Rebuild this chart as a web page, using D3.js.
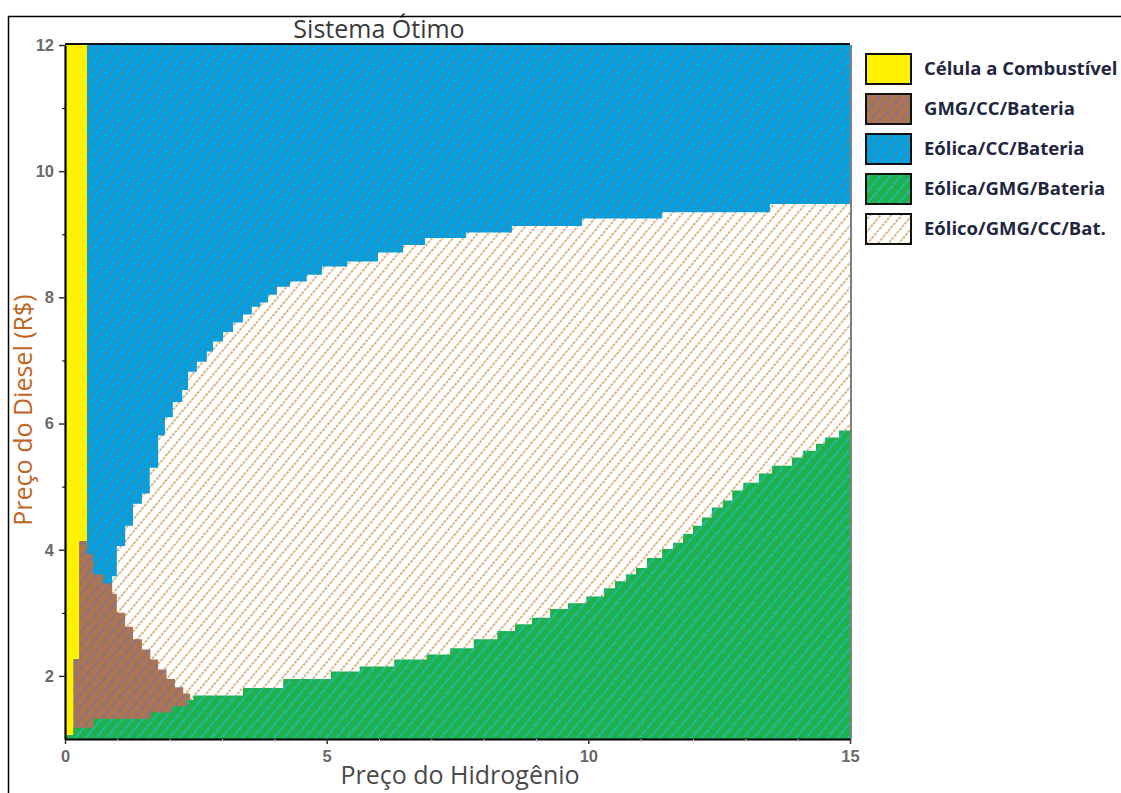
<!DOCTYPE html>
<html>
<head>
<meta charset="utf-8">
<script src="https://cdn.jsdelivr.net/npm/d3@7"></script>
<style>
  body { margin: 0; background: #fff; }
  svg { display: block; }
</style>
</head>
<body>
<div id="chart"></div>
<script>
// Região ótima: fronteiras (preço do hidrogênio x preço do diesel)
var yellowX   = [0, 0.16, 0.27, 0.42];
var yellowLow = [1.06, 2.27, 4.14, 4.14];

var brownX   = [0.16, 0.27, 0.42, 0.54, 0.73, 0.90, 0.99, 1.15, 1.30, 1.47, 1.63, 1.78, 1.94, 2.10, 2.26, 2.39];
var brownTop = [2.27, 4.14, 3.93, 3.61, 3.47, 3.30, 3.00, 2.78, 2.58, 2.42, 2.26, 2.10, 1.95, 1.82, 1.72, 1.72];

var whiteX   = [0.90, 0.99, 1.15, 1.30, 1.47, 1.62, 1.78, 1.91, 2.06, 2.24, 2.35, 2.52, 2.71, 2.83, 3.02, 3.21, 3.40,
                3.57, 3.73, 3.88, 4.05, 4.30, 4.62, 4.91, 5.39, 5.98, 6.46, 6.88, 7.66, 8.54, 9.88, 11.41, 13.47, 15];
var whiteTop = [3.58, 4.06, 4.38, 4.73, 4.89, 5.30, 5.81, 6.10, 6.34, 6.53, 6.82, 6.98, 7.14, 7.30, 7.45, 7.60, 7.73,
                7.85, 7.92, 8.04, 8.17, 8.25, 8.36, 8.49, 8.57, 8.71, 8.83, 8.94, 9.03, 9.13, 9.25, 9.35, 9.48, 9.48];

var greenX   = [0, 0.16, 0.54, 1.63, 2.04, 2.33, 2.45, 3.40, 4.17, 5.08, 5.63, 6.29, 6.91, 7.36, 7.81, 8.26, 8.60,
                8.92, 9.27, 9.61, 9.96, 10.30, 10.51, 10.72, 10.91, 11.12, 11.41, 11.62, 11.81, 12.00, 12.17, 12.36,
                12.57, 12.75, 12.96, 13.26, 13.51, 13.89, 14.10, 14.35, 14.52, 14.79, 15];
var greenTop = [1.06, 1.18, 1.32, 1.42, 1.52, 1.62, 1.69, 1.81, 1.95, 2.07, 2.15, 2.26, 2.34, 2.44, 2.58, 2.71, 2.82,
                2.92, 3.06, 3.15, 3.26, 3.39, 3.50, 3.61, 3.71, 3.87, 4.01, 4.11, 4.25, 4.38, 4.51, 4.67,
                4.78, 4.94, 5.06, 5.21, 5.33, 5.46, 5.57, 5.68, 5.78, 5.89, 5.95];

var legendLabels = ["Célula a Combustível", "GMG/CC/Bateria", "Eólica/CC/Bateria", "Eólica/GMG/Bateria", "Eólico/GMG/CC/Bat."];
var legendKeys   = ["yellow", "brown", "blue", "green", "white"];
var yTicks = [2, 4, 6, 8, 10, 12];
var xTicks = [0, 5, 10, 15];

var width = 1121, height = 793;

var svg = d3.select("#chart").append("svg")
  .attr("width", width)
  .attr("height", height);

// hatch patterns
var fills = {
  yellow: { bg: "#fff200", line: null },
  brown:  { bg: "#ad7552", line: "#6f70a8", dash: "6 1" },
  blue:   { bg: "#00a0e2", line: "#66828a", dash: "6 1" },
  green:  { bg: "#21b04b", line: "#16c8e0", dash: "6 1" },
  white:  { bg: "#ffffff", line: "#c08a35", dash: "3 1" }
};

var defs = svg.append("defs");
Object.keys(fills).forEach(function(k) {
  var f = fills[k];
  var p = defs.append("pattern")
    .attr("id", "hatch-" + k)
    .attr("patternUnits", "userSpaceOnUse")
    .attr("width", 8)
    .attr("height", 8)
    .attr("patternTransform", "rotate(40)");
  p.append("rect").attr("width", 8).attr("height", 8).attr("fill", f.bg);
  if (f.line) {
    p.append("line")
      .attr("x1", 4).attr("y1", 0).attr("x2", 4).attr("y2", 8)
      .attr("stroke", f.line)
      .attr("stroke-width", 1.2)
      .attr("stroke-dasharray", f.dash);
  }
});

var x = d3.scaleLinear().domain([0, 15]).range([65, 850]);
var y = d3.scaleLinear().domain([1, 12]).range([739, 45]);

defs.append("clipPath").attr("id", "plotclip")
  .append("rect")
    .attr("x", x(0)).attr("y", y(12))
    .attr("width", x(15) - x(0)).attr("height", y(1) - y(12));

var plot = svg.append("g").attr("clip-path", "url(#plotclip)");

// blue background region (Eólica/CC/Bateria)
plot.append("rect")
  .attr("x", x(0)).attr("y", y(12))
  .attr("width", x(15) - x(0)).attr("height", y(1) - y(12))
  .attr("fill", "url(#hatch-blue)");

function zip(xs, ys) {
  return xs.map(function(v, i) { return [v, ys[i]]; });
}

var areaFromBottom = d3.area()
  .curve(d3.curveStepAfter)
  .x(function(d) { return x(d[0]); })
  .y0(function(d) { return y(1); })
  .y1(function(d) { return y(d[1]); });

var areaToTop = d3.area()
  .curve(d3.curveStepAfter)
  .x(function(d) { return x(d[0]); })
  .y0(function(d) { return y(d[1]); })
  .y1(function(d) { return y(12); });

plot.append("path")
  .datum(zip(whiteX, whiteTop))
  .attr("d", areaFromBottom)
  .attr("fill", "url(#hatch-white)");

plot.append("path")
  .datum(zip(brownX, brownTop))
  .attr("d", areaFromBottom)
  .attr("fill", "url(#hatch-brown)");

plot.append("path")
  .datum(zip(yellowX, yellowLow))
  .attr("d", areaToTop)
  .attr("fill", "url(#hatch-yellow)");

plot.append("path")
  .datum(zip(greenX, greenTop))
  .attr("d", areaFromBottom)
  .attr("fill", "url(#hatch-green)");

// plot frame
svg.append("line")
  .attr("x1", x(15) + 1).attr("x2", x(15) + 1)
  .attr("y1", y(12)).attr("y2", y(1))
  .attr("stroke", "#555").attr("stroke-width", 1.5);
svg.append("line")
  .attr("x1", x(0)).attr("x2", x(15))
  .attr("y1", y(12) - 1).attr("y2", y(12) - 1)
  .attr("stroke", "#111").attr("stroke-width", 1.8);

// axes
var yAxis = svg.append("g")
  .attr("transform", "translate(" + x(0) + ",0)")
  .call(d3.axisLeft(y).tickValues(yTicks).tickSize(6).tickPadding(5).tickSizeOuter(0));

svg.append("g")
  .attr("transform", "translate(" + x(0) + ",0)")
  .call(d3.axisLeft(y).tickValues([3, 5, 7, 9, 11]).tickSize(3).tickFormat("").tickSizeOuter(0))
  .call(function(g) { g.select(".domain").remove(); });

var xAxis = svg.append("g")
  .attr("transform", "translate(0," + y(1) + ")")
  .call(d3.axisBottom(x).tickValues(xTicks).tickSize(5).tickPadding(6).tickSizeOuter(0));

svg.append("g")
  .attr("transform", "translate(0," + y(1) + ")")
  .call(d3.axisBottom(x).tickValues(d3.range(1, 15).filter(function(v) { return v % 5 !== 0; }))
    .tickSize(3).tickFormat("").tickSizeOuter(0))
  .call(function(g) {
    g.select(".domain").remove();
    g.selectAll("line").attr("stroke", "#bbb");
  });

[yAxis, xAxis].forEach(function(g) {
  g.select(".domain").attr("stroke", "#000").attr("stroke-width", 2.2);
  g.selectAll(".tick line").attr("stroke", "#333").attr("stroke-width", 1.5);
  g.selectAll(".tick text")
    .attr("fill", "#6a6a6a")
    .style("font-family", "'Liberation Sans', Arial, sans-serif")
    .style("font-weight", "bold")
    .style("font-size", "16.5px");
});

// title and axis labels
svg.append("text")
  .attr("x", 379).attr("y", 38)
  .attr("text-anchor", "middle")
  .style("font-family", "'Open Sans', sans-serif")
  .style("font-size", "25px")
  .attr("fill", "#3a3a3a")
  .text("Sistema Ótimo");

svg.append("text")
  .attr("x", 460).attr("y", 784)
  .attr("text-anchor", "middle")
  .style("font-family", "'Open Sans', sans-serif")
  .style("font-size", "25px")
  .attr("fill", "#4a4a4a")
  .text("Preço do Hidrogênio");

svg.append("text")
  .attr("transform", "translate(32,410) rotate(-90)")
  .attr("text-anchor", "middle")
  .style("font-family", "'Open Sans', sans-serif")
  .style("font-size", "25px")
  .attr("fill", "#c0651f")
  .text("Preço do Diesel (R$)");

// outer frame
svg.append("path")
  .attr("d", "M8.5," + height + "V16.5H" + width)
  .attr("fill", "none")
  .attr("stroke", "#000")
  .attr("stroke-width", 1.5);

// legend
var legend = svg.append("g").attr("transform", "translate(866,54)");
var item = legend.selectAll("g")
  .data(legendKeys)
  .enter().append("g")
    .attr("transform", function(d, i) { return "translate(0," + (i * 40) + ")"; });

item.append("rect")
  .attr("width", 45)
  .attr("height", 30)
  .attr("fill", function(d) { return "url(#hatch-" + d + ")"; })
  .attr("stroke", "#111")
  .attr("stroke-width", 2);

item.append("text")
  .attr("x", 58)
  .attr("y", 21)
  .style("font-family", "'Open Sans', sans-serif")
  .style("font-weight", "bold")
  .style("font-size", "18.5px")
  .attr("fill", "#1f2640")
  .text(function(d, i) { return legendLabels[i]; });
</script>
</body>
</html>
